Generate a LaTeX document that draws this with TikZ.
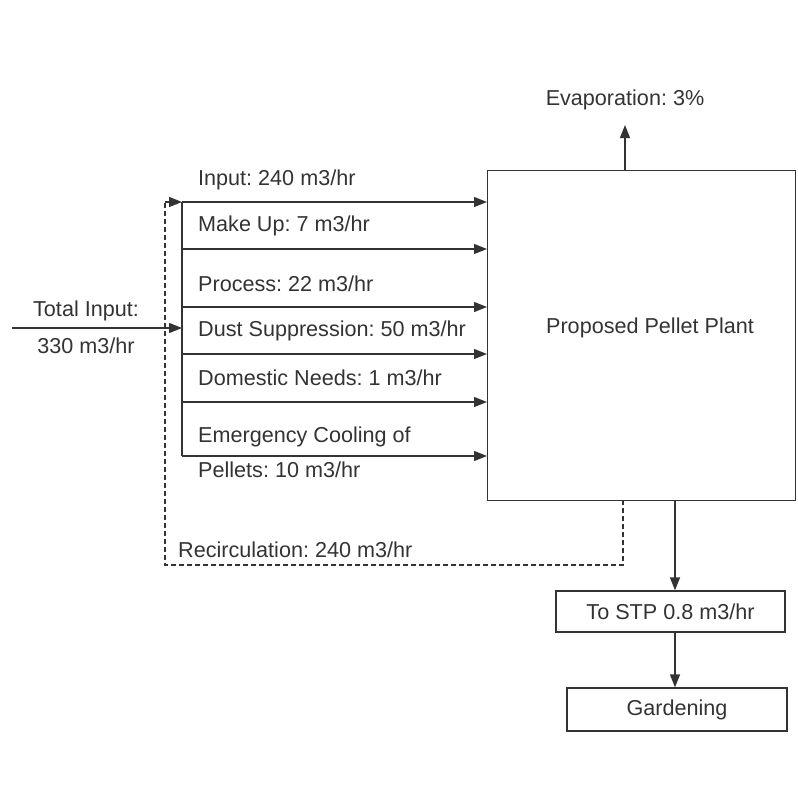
\documentclass[tikz,border=0pt]{standalone}
\usepackage{fontspec}
\setmainfont{Liberation Sans}
\usetikzlibrary{arrows.meta}
\frenchspacing
\begin{document}
\begin{tikzpicture}[x=1pt,y=-1pt,
  every node/.style={font=\fontsize{21.6}{24}\selectfont, text=black!80},
  flow/.style={draw=black!80, line width=1.3pt, -{Triangle[length=13pt,width=10pt]}},
  plain/.style={draw=black!80, line width=1.3pt},
  recirc/.style={draw=black!80, line width=1.2pt, dashed, dash pattern=on 5pt off 3pt},
  boxst/.style={draw=black!80, line width=1.3pt, rectangle, inner sep=0pt},
  lbl/.style={anchor=west, inner sep=0pt}]
\useasboundingbox (0,0) rectangle (798,790);
% main box
\node[boxst, minimum width=308pt, minimum height=330pt, anchor=north west] (plant) at (487,170) {};
\node at (650,328) (plantlbl) {Proposed Pellet Plant};
% evaporation
\coordinate (evapS) at (625,170);
\coordinate (evapE) at (625,125);
\draw[flow] (evapS) -- (evapE);
\node (evap) at (625,100) {Evaporation: 3\%};
% bus
\coordinate (busT) at (182,202);
\coordinate (busB) at (182,456);
\draw[plain] (busT) -- (busB);
\foreach \y/\n in {202/a,249/b,307/c,354/d,402/e,456/f}{
  \coordinate (s\n) at (182,\y);
  \coordinate (t\n) at (487,\y);
  \draw[flow] (s\n) -- (t\n);
}
\node[lbl] (l1) at (198,180) {Input: 240 m3/hr};
\node[lbl] (l2) at (198,226) {Make Up: 7 m3/hr};
\node[lbl] (l3) at (198,284) {Process: 22 m3/hr};
\node[lbl] (l4) at (198,331) {Dust Suppression: 50 m3/hr};
\node[lbl] (l5) at (198,378) {Domestic Needs: 1 m3/hr};
\node[lbl] (l6) at (198,437) {Emergency Cooling of};
\node[lbl] (l7) at (198,470) {Pellets: 10 m3/hr};
% total input
\coordinate (tin) at (12,328);
\coordinate (tinE) at (182,328);
\draw[flow] (tin) -- (tinE);
\node (ti1) at (86,311) {Total Input:};
\node (ti2) at (86,346) {330 m3/hr};
% recirculation
\coordinate (r1) at (623,500);
\coordinate (r2) at (623,565);
\coordinate (r3) at (165,565);
\coordinate (r4) at (165,202);
\draw[recirc] (r1) -- (r2) -- (r3) -- (r4);
\draw[flow] (r4) -- (busT);
\node[lbl] (rl) at (178,550) {Recirculation: 240 m3/hr};
% STP and gardening
\node[boxst, minimum width=229pt, minimum height=41pt] (stp) at (670.5,611.5) {To STP 0.8 m3/hr};
\node[boxst, minimum width=220pt, minimum height=43pt] (gard) at (677,709.5) {Gardening};
\coordinate (pb) at (675,500);
\draw[flow] (pb) -- (pb |- stp.north);
\draw[flow] (stp.south -| pb) -- (pb |- gard.north);
\end{tikzpicture}
\end{document}
